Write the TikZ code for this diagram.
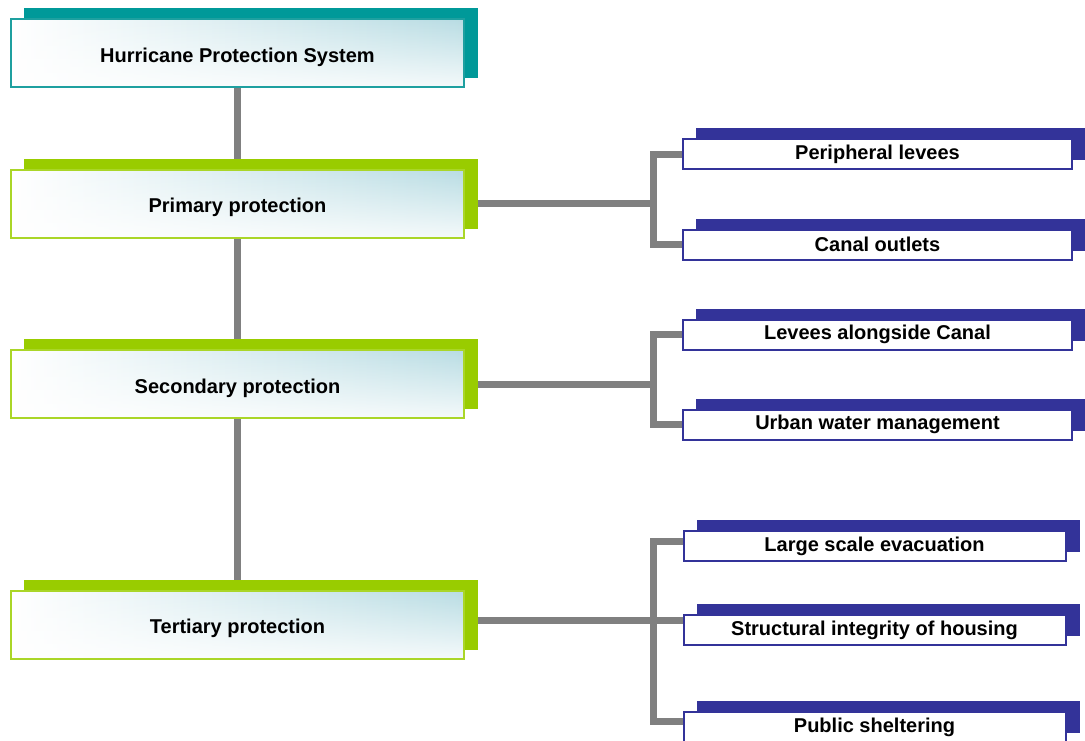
\documentclass[tikz,border=0pt]{standalone}
\usepackage{fontspec}
\setmainfont{Liberation Sans}
\usetikzlibrary{calc,fadings}
\definecolor{hpsTeal}{RGB}{0,153,153}
\definecolor{hpsTealLine}{RGB}{30,160,160}
\definecolor{hpsGreen}{RGB}{153,204,0}
\definecolor{hpsGreenLine}{RGB}{170,214,40}
\definecolor{hpsNavy}{RGB}{51,51,153}
\definecolor{hpsGray}{RGB}{128,128,128}
\definecolor{hpsIce}{RGB}{184,220,227}
\pgfdeclarelayer{bg}
\pgfdeclarelayer{lines}
\pgfdeclarelayer{backs}
\pgfsetlayers{bg,lines,backs,main}
\newcommand\hpsback[2]{\fill[#2] ($(#1.south west)+(14,-10)$) rectangle ($(#1.north east)+(13,-10)$);}
\begin{document}
\begin{tikzpicture}[x=1pt,y=-1pt,
  mainbox/.style={line width=2pt, minimum width=453pt, minimum height=68pt, inner sep=0pt,
    text height=19pt, text depth=1pt,
    font=\fontsize{20}{24}\selectfont\bfseries, left color=white, right color=hpsIce,
    path picture={\fill[white, path fading=north, fill opacity=0.85]
      (path picture bounding box.south west) rectangle (path picture bounding box.north east);}},
  subbox/.style={draw=hpsNavy, line width=2pt, fill=white, minimum height=30pt, inner sep=0pt,
    font=\fontsize{20}{24}\selectfont\bfseries},
  link/.style={draw=hpsGray, line width=7pt},
]
\useasboundingbox (0,0) rectangle (1085,740);
\begin{pgfonlayer}{bg}
\fill[white] (0,0) rectangle (1085,740);
\end{pgfonlayer}

% left column
\node[mainbox, draw=hpsTealLine]  (top)  at (237.5,53)    {Hurricane Protection System};
\node[mainbox, draw=hpsGreenLine] (prim) at (237.5,203.5) {Primary protection};
\node[mainbox, draw=hpsGreenLine] (sec)  at (237.5,384)   {Secondary protection};
\node[mainbox, draw=hpsGreenLine] (tert) at (237.5,624.5) {Tertiary protection};

% right column
\node[subbox, minimum width=389pt] (s1) at (877.5,154)   {Peripheral levees};
\node[subbox, minimum width=389pt] (s2) at (877.5,244.5) {Canal outlets};
\node[subbox, minimum width=389pt] (s3) at (877.5,334.5) {Levees alongside Canal};
\node[subbox, minimum width=389pt] (s4) at (877.5,424.5) {Urban water management};
\node[subbox, minimum width=382pt] (s5) at (874.5,546)   {Large scale evacuation};
\node[subbox, minimum width=382pt] (s6) at (874.5,630)   {Structural integrity of housing};
\node[subbox, minimum width=382pt] (s7) at (874.5,727)   {Public sheltering};

% offset back blocks
\begin{pgfonlayer}{backs}
\hpsback{top}{hpsTeal}
\hpsback{prim}{hpsGreen}
\hpsback{sec}{hpsGreen}
\hpsback{tert}{hpsGreen}
\hpsback{s1}{hpsNavy}
\hpsback{s2}{hpsNavy}
\hpsback{s3}{hpsNavy}
\hpsback{s4}{hpsNavy}
\hpsback{s5}{hpsNavy}
\hpsback{s6}{hpsNavy}
\hpsback{s7}{hpsNavy}
\end{pgfonlayer}

% connectors
\begin{pgfonlayer}{lines}
\draw[link] (top.south) -- (tert.north);
\coordinate (j1) at (653,203.5);
\coordinate (j2) at (653,384);
\coordinate (j3) at (653,620.5);
\draw[link] (prim.east) -- (j1);
\draw[link] (s1.west) -| (j1);
\draw[link] (s2.west) -| (j1);
\draw[link] (sec.east) -- (j2);
\draw[link] (s3.west) -| (j2);
\draw[link] (s4.west) -| (j2);
\draw[link] ($(tert.east)+(0,-4)$) -- (j3);
\draw[link] ($(s5.west)+(0,-5)$) -| (j3);
\draw[link] (s6.west |- j3) -- (j3);
\draw[link] ($(s7.west)+(0,-6)$) -| (j3);
\end{pgfonlayer}
\end{tikzpicture}
\end{document}
